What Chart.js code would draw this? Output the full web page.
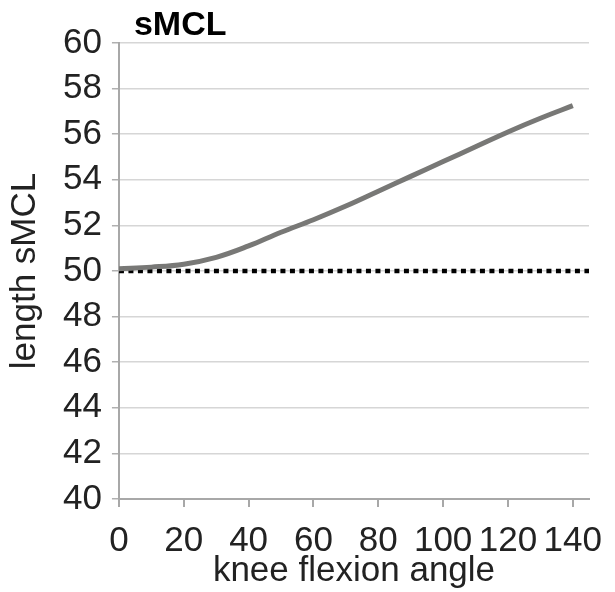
<!DOCTYPE html>
<html>
<head>
<meta charset="utf-8">
<script src="https://cdn.jsdelivr.net/npm/chart.js@4.4.1/dist/chart.umd.min.js"></script>
<style>
  html, body { margin: 0; padding: 0; background: #fff; }
  #wrap { width: 615px; height: 592px; }
</style>
</head>
<body>
<div id="wrap"><canvas id="chart"></canvas></div>
<script>
// knee flexion angle (deg) and sMCL length
const angles = [0, 10, 20, 30, 40, 50, 60, 70, 80, 90, 100, 110, 120, 130, 140];
const lengths = [50.1, 50.17, 50.3, 50.6, 51.1, 51.7, 52.25, 52.85, 53.5, 54.15, 54.8, 55.45, 56.1, 56.7, 57.25];

// reference length (dotted line)
const refX = [0, 145];
const refY = [50, 50];

const chartTitle = 'sMCL';
const xTitle = 'knee flexion angle';
const yTitle = 'length sMCL';

const FONT = "'Liberation Sans', Arial, sans-serif";

// title sits just right of the y axis, like the original
const titlePlugin = {
  id: 'leftTitle',
  afterDraw(chart) {
    const ctx = chart.ctx;
    ctx.save();
    ctx.font = 'bold 34px ' + FONT;
    ctx.fillStyle = '#000';
    ctx.textBaseline = 'alphabetic';
    ctx.textAlign = 'left';
    ctx.fillText(chartTitle, chart.chartArea.left + 15, 35);
    ctx.restore();
  }
};

new Chart(document.getElementById('chart'), {
  type: 'line',
  data: {
    datasets: [
      {
        data: refX.map((x, i) => ({ x: x, y: refY[i] })),
        borderColor: '#000',
        borderWidth: 4.5,
        borderDash: [5, 4.5],
        borderCapStyle: 'butt',
        pointRadius: 0,
        order: 1
      },
      {
        data: angles.map((a, i) => ({ x: a, y: lengths[i] })),
        borderColor: '#787876',
        borderWidth: 5,
        tension: 0.4,
        pointRadius: 0,
        order: 0
      }
    ]
  },
  options: {
    responsive: true,
    maintainAspectRatio: false,
    animation: false,
    layout: { padding: { top: 43, right: 0, left: 4, bottom: 0 } },
    plugins: {
      legend: { display: false },
      tooltip: { enabled: false }
    },
    scales: {
      x: {
        type: 'linear',
        min: 0,
        max: 145,
        border: { color: '#a8a8a8', width: 2 },
        grid: { drawOnChartArea: false, drawTicks: true, tickLength: 8, color: '#a8a8a8', lineWidth: 2 },
        ticks: {
          stepSize: 20,
          includeBounds: false,
          maxRotation: 0,
          autoSkip: false,
          padding: 13,
          color: '#222',
          font: { family: FONT, size: 35 }
        },
        title: {
          display: true,
          text: xTitle,
          color: '#222',
          padding: { top: -25, bottom: 0 },
          font: { family: FONT, size: 35 }
        }
      },
      y: {
        min: 40,
        max: 60,
        border: { color: '#a8a8a8', width: 2 },
        grid: { color: '#d6d6d6', lineWidth: 1.5, tickLength: 7, tickColor: '#b0b0b0' },
        ticks: {
          stepSize: 2,
          autoSkip: false,
          padding: 10,
          color: '#222',
          font: { family: FONT, size: 35 }
        },
        title: {
          display: true,
          text: yTitle,
          color: '#222',
          padding: { top: 0, bottom: 7 },
          font: { family: FONT, size: 35 }
        }
      }
    }
  },
  plugins: [titlePlugin]
});
</script>
</body>
</html>
